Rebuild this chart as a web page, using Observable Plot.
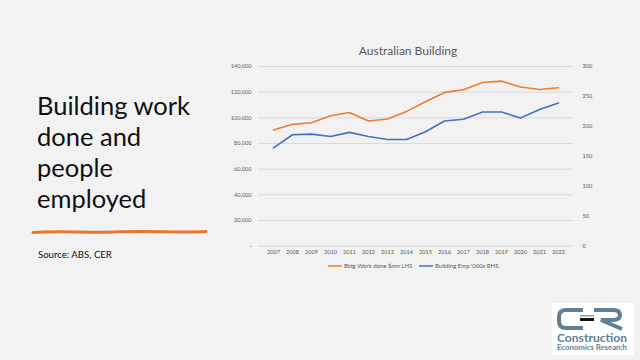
<!DOCTYPE html>
<html><head><meta charset="utf-8">
<script src="https://cdn.jsdelivr.net/npm/d3@7"></script>
<script src="https://cdn.jsdelivr.net/npm/@observablehq/plot@0.6"></script>
<style>
html,body{margin:0;padding:0;background:#f2f2f2;}
#slide{position:relative;width:640px;height:360px;overflow:hidden;background:#f2f2f2;font-family:Lato,"Open Sans",sans-serif;}
#deco{position:absolute;left:0;top:0;}
#chart{position:absolute;left:220px;top:40px;}
#title{position:absolute;left:318px;width:180px;top:43px;text-align:center;font-size:12px;color:#595959;}
.leg{position:absolute;top:262px;font-size:6px;color:#595959;display:flex;align-items:center;white-space:nowrap;}
.sw{display:inline-block;width:14px;height:2px;margin-right:2px;}
</style></head>
<body>
<div id="slide">
<svg id="deco" width="640" height="360">
  <g font-family="Lato, 'Open Sans', sans-serif" fill="#111">
    <text x="37" y="115" font-size="25.5">Building work</text>
    <text x="37" y="146" font-size="25.5">done and</text>
    <text x="37" y="177" font-size="25.5">people</text>
    <text x="37" y="208" font-size="25.5">employed</text>
    <text x="38" y="258" font-size="9.6">Source: ABS, CER</text>
  </g>
  <path d="M33 232.5 C60 230.5 90 233.5 120 231.8 C150 230.5 180 233 206 231.5" stroke="#e8772e" stroke-width="3" fill="none" stroke-linecap="round"/>
  <rect x="552" y="303" width="82" height="52" fill="#ffffff"/>
  <path d="M583 310 H566 Q559 310 559 317 V321 Q559 328 566 328 H583" stroke="#5f8096" stroke-width="4" fill="none"/>
  <rect x="580" y="315" width="14" height="1.5" fill="#8aa0ae"/>
  <rect x="580" y="318" width="14" height="3" fill="#111"/>
  <path d="M594 310 H613 Q620 310 620 315 Q620 320 613 320 H601 L622 329" stroke="#5f8096" stroke-width="4" fill="none"/>
  <text x="557" y="342" font-family="Lato, sans-serif" font-weight="bold" font-size="10.5" fill="#5f8096" textLength="70" lengthAdjust="spacingAndGlyphs">Construction</text>
  <text x="557" y="350" font-family="Lato, sans-serif" font-weight="bold" font-size="6.5" fill="#5f8096" textLength="70" lengthAdjust="spacingAndGlyphs">Economics Research</text>
</svg>
<div id="title">Australian Building</div>
<div id="chart"></div>
<div id="legend"></div>
</div>
<script>
const years = [2007,2008,2009,2010,2011,2012,2013,2014,2015,2016,2017,2018,2019,2020,2021,2022];
const workDone = [90500,94900,96200,101600,104200,97500,99100,105000,112500,119800,121900,127500,128600,124000,122100,123400];
const employment = [164,186,187,183,190,183,178,178,191,209,212,224,224,214,228,239];
const leftTicks = [0,20000,40000,60000,80000,100000,120000,140000];
const rightTicks = [0,50,100,150,200,250,300];
const seriesNames = ["Bldg Work done $mn LHS","Building Emp '000s RHS"];
const seriesColors = ["#ed7d31","#4472c4"];

const k = 140000/300;
const data = years.map((y,i)=>({year:y, work:workDone[i], emp:employment[i]}));

const chart = Plot.plot({
  width:390, height:220,
  marginLeft:38, marginRight:37, marginTop:26, marginBottom:14.4,
  style:{background:"transparent", fontFamily:"Lato, 'Open Sans', sans-serif", fontSize:"5.6px", color:"#595959"},
  x:{type:"point", domain:years, padding:0.5},
  y:{domain:[0,140000]},
  marks:[
    Plot.gridY(leftTicks,{stroke:"#d9d9d9", strokeOpacity:1}),
    Plot.axisY(leftTicks,{anchor:"left", tickSize:0, tickPadding:7, tickFormat:d=>d===0?"-":d3.format(",")(d), label:null}),
    Plot.axisY(rightTicks.map(v=>v*k),{anchor:"right", tickSize:0, tickPadding:9, tickFormat:d=>String(Math.round(d/k)), label:null}),
    Plot.axisX(years,{tickSize:0, tickPadding:4, tickFormat:d=>String(d), label:null}),
    Plot.lineY(data,{x:"year", y:"work", stroke:seriesColors[0], strokeWidth:1.6}),
    Plot.lineY(data,{x:"year", y:d=>d.emp*k, stroke:seriesColors[1], strokeWidth:1.6})
  ]
});
document.getElementById("chart").appendChild(chart);

const legendLeft = [328,419];
const lg = document.getElementById("legend");
seriesNames.forEach((n,i)=>{
  const d = document.createElement("div");
  d.className="leg"; d.style.left=legendLeft[i]+"px";
  d.innerHTML = `<span class="sw" style="background:${seriesColors[i]};opacity:0.75"></span>`;
  d.appendChild(document.createTextNode(n));
  lg.appendChild(d);
});
</script>
</body></html>
